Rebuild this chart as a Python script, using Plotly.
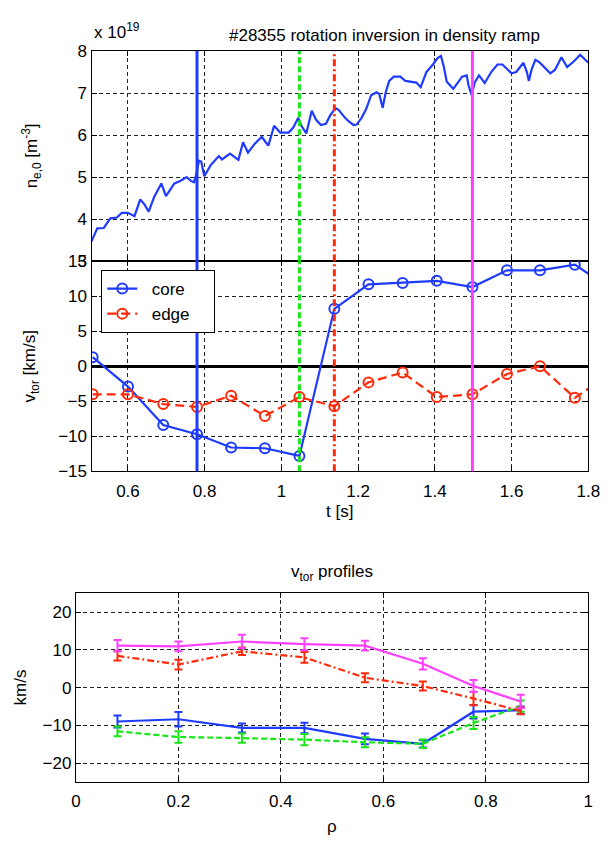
import plotly.graph_objects as go

# Central electron density during the ramp, in units of 1e19 m^-3
t_ne = [0.505, 0.520, 0.537, 0.554, 0.571, 0.584, 0.600, 0.617, 0.632, 0.643,
        0.654, 0.668, 0.687, 0.699, 0.721, 0.736, 0.753, 0.764, 0.772, 0.778,
        0.785, 0.791, 0.799, 0.816, 0.837, 0.845, 0.866, 0.888, 0.900, 0.913,
        0.930, 0.949, 0.959, 0.966, 0.981, 0.997, 1.019, 1.031, 1.044, 1.052,
        1.065, 1.079, 1.090, 1.103, 1.116, 1.128, 1.141, 1.149, 1.166, 1.175,
        1.188, 1.196, 1.209, 1.221, 1.234, 1.248, 1.255, 1.264, 1.272, 1.281,
        1.293, 1.310, 1.323, 1.340, 1.352, 1.363, 1.378, 1.395, 1.407, 1.416,
        1.424, 1.431, 1.448, 1.460, 1.471, 1.483, 1.488, 1.496, 1.504, 1.515,
        1.530, 1.547, 1.563, 1.576, 1.586, 1.600, 1.612, 1.631, 1.640, 1.645,
        1.652, 1.662, 1.673, 1.686, 1.701, 1.713, 1.730, 1.745, 1.762, 1.779,
        1.789, 1.800]
ne0 = [3.47, 3.78, 3.79, 4.02, 4.04, 4.15, 4.15, 4.07, 4.47, 4.35,
       4.18, 4.52, 4.85, 4.55, 4.85, 4.91, 5.00, 4.91, 4.88, 5.06,
       5.39, 5.37, 5.02, 5.29, 5.50, 5.42, 5.56, 5.41, 5.83, 5.58,
       5.79, 5.96, 5.83, 5.75, 6.22, 6.06, 6.06, 6.18, 6.41, 6.22,
       6.04, 6.58, 6.37, 6.24, 6.27, 6.48, 6.64, 6.60, 6.41, 6.33,
       6.24, 6.25, 6.41, 6.62, 6.95, 7.02, 6.98, 6.65, 7.02, 7.29,
       7.39, 7.39, 7.29, 7.27, 7.25, 7.14, 7.50, 7.68, 7.83, 7.88,
       7.60, 7.27, 7.10, 7.25, 7.39, 7.42, 7.18, 6.95, 7.25, 7.42,
       7.24, 7.50, 7.68, 7.68, 7.60, 7.47, 7.50, 7.72, 7.50, 7.29,
       7.55, 7.79, 7.73, 7.60, 7.47, 7.55, 7.85, 7.62, 7.75, 7.91,
       7.83, 7.72]

# Toroidal rotation (km/s) at the core and at the edge
t_rot = [0.508, 0.600, 0.692, 0.780, 0.869, 0.957, 1.047, 1.138,
         1.227, 1.316, 1.405, 1.498, 1.588, 1.674, 1.765, 1.855]
v_core = [1.3, -2.9, -8.4, -9.7, -11.6, -11.7, -12.8, 8.2,
          11.7, 11.9, 12.2, 11.3, 13.7, 13.7, 14.5, 11.2]
v_edge = [-4.0, -4.0, -5.4, -5.8, -4.2, -7.1, -4.4, -5.7,
          -2.3, -0.9, -4.4, -4.0, -1.1, 0.0, -4.5, -1.2]

# Times at which radial profiles are shown
profile_times = [0.780, 1.047, 1.138, 1.498]
profile_colors = ["#1f3bff", "#19e619", "#ff2a0a", "#ff40ff"]
profile_dash = ["solid", "6px,3px", "7px,3px,2px,3px", "solid"]

# Radial profiles of v_tor (km/s) with uncertainties
rho = [0.081, 0.200, 0.324, 0.446, 0.564, 0.677, 0.776, 0.868]
v_prof = [
    [-9.0, -8.4, -10.7, -10.7, -13.6, -14.9, -6.4, -6.0],
    [-11.6, -13.1, -13.4, -13.8, -14.5, -14.9, -9.4, -4.9],
    [8.4, 6.1, 9.6, 8.0, 2.6, 0.4, -2.9, -6.2],
    [11.1, 10.9, 12.2, 11.5, 11.1, 6.3, 0.4, -3.7],
]
v_prof_err = [
    [1.6, 1.9, 1.2, 1.4, 1.4, 1.0, 1.8, 1.0],
    [1.3, 1.5, 1.2, 1.5, 1.3, 1.1, 1.6, 1.5],
    [1.2, 1.3, 1.0, 1.4, 1.2, 1.2, 1.8, 0.9],
    [1.5, 1.3, 1.8, 1.6, 1.3, 1.5, 1.6, 1.8],
]

t_ticks = [0.6, 0.8, 1.0, 1.2, 1.4, 1.6, 1.8]
t_ticklabels = ["0.6", "0.8", "1", "1.2", "1.4", "1.6", "1.8"]
ne_ticks = [3, 4, 5, 6, 7, 8]
v_ticks = [-15, -10, -5, 0, 5, 10, 15]
rho_ticks = [0, 0.2, 0.4, 0.6, 0.8, 1.0]
rho_ticklabels = ["0", "0.2", "0.4", "0.6", "0.8", "1"]
vp_ticks = [-20, -10, 0, 10, 20]

FONT = "Liberation Sans, Arial, sans-serif"
W, H = 610, 843
BLUE = "#1f3bff"
RED = "#ff2a0a"
NB = "\u00a0"


def px(x):
    return x / W


def py(y):
    return 1 - y / H


fig = go.Figure()

fig.add_trace(go.Scatter(x=t_ne, y=ne0, mode="lines", xaxis="x", yaxis="y",
                         line=dict(color=BLUE, width=2.2), showlegend=False))

fig.add_trace(go.Scatter(x=t_rot, y=v_core, mode="lines+markers",
                         name=NB * 2 + "core" + NB * 4,
                         xaxis="x2", yaxis="y2",
                         line=dict(color=BLUE, width=2.2),
                         marker=dict(symbol="circle-open", size=10,
                                     line=dict(color=BLUE, width=2))))
fig.add_trace(go.Scatter(x=t_rot, y=v_edge, mode="lines+markers",
                         name=NB * 2 + "edge" + NB * 4,
                         xaxis="x2", yaxis="y2",
                         line=dict(color=RED, width=2.2, dash="9px,5px"),
                         marker=dict(symbol="circle-open", size=10,
                                     line=dict(color=RED, width=2))))

for vals, errs, col, dsh in zip(v_prof, v_prof_err, profile_colors, profile_dash):
    fig.add_trace(go.Scatter(x=rho, y=vals, mode="lines", xaxis="x3", yaxis="y3",
                             line=dict(color=col, width=2.2, dash=dsh),
                             error_y=dict(type="data", array=errs, visible=True,
                                          color=col, thickness=2, width=4),
                             showlegend=False))

# Markers for the profile times across both time-trace panels
shapes = []
for t, col, dsh in zip(profile_times, profile_colors, profile_dash):
    for xr, yr in (("x", "y domain"), ("x2", "y2 domain")):
        shapes.append(dict(type="line", xref=xr, yref=yr, x0=t, x1=t, y0=0, y1=1,
                           layer="above", line=dict(color=col, width=3, dash=dsh)))

axis_common = dict(
    showline=True, linecolor="black", linewidth=1.3, mirror="ticks",
    ticks="inside", ticklen=5, tickcolor="black", tickwidth=1,
    showgrid=True, gridcolor="#222222", gridwidth=1, griddash="4px,3px",
    zeroline=False, tickfont=dict(family=FONT, size=17, color="black"),
)

x_dom = [px(89), px(600)]
fig.update_layout(
    width=W, height=H, margin=dict(l=0, r=0, t=0, b=0),
    paper_bgcolor="white", plot_bgcolor="white",
    font=dict(family=FONT, size=17, color="black"),
    shapes=shapes,
    xaxis=dict(axis_common, domain=x_dom, range=[0.505, 1.8], tickvals=t_ticks,
               showticklabels=False, anchor="y"),
    yaxis=dict(axis_common, domain=[py(258), py(43)], range=[3, 8],
               tickvals=ne_ticks, anchor="x"),
    xaxis2=dict(axis_common, domain=x_dom, range=[0.505, 1.8], tickvals=t_ticks,
                ticktext=t_ticklabels, anchor="y2", ticklabelstandoff=4),
    yaxis2=dict(axis_common, domain=[py(473), py(258)], range=[-15, 15],
                tickvals=v_ticks, anchor="x2", zeroline=True,
                zerolinecolor="black", zerolinewidth=3),
    xaxis3=dict(axis_common, domain=[px(73), px(600)], range=[0, 1],
                tickvals=rho_ticks, ticktext=rho_ticklabels, anchor="y3",
                ticklabelstandoff=4),
    yaxis3=dict(axis_common, domain=[py(790.7), py(597.7)], range=[-25, 25],
                tickvals=vp_ticks, anchor="x3"),
    legend=dict(x=px(99), y=py(267), xanchor="left", yanchor="top",
                bgcolor="white", bordercolor="black", borderwidth=1,
                font=dict(family=FONT, size=17, color="black"),
                tracegroupgap=0, itemwidth=30),
)

ann = [
    dict(text="#28355 rotation inversion in density ramp", x=px(390), y=py(27)),
    dict(text="x 10<sup>19</sup>", x=px(90), y=py(22), xanchor="left"),
    dict(text="n<sub>e,0</sub> [m<sup>-3</sup>]", x=px(27), y=py(150.5), textangle=-90),
    dict(text="v<sub>tor</sub> [km/s]", x=px(27), y=py(365.5), textangle=-90),
    dict(text="t [s]", x=px(344.5), y=py(514)),
    dict(text="v<sub>tor</sub> profiles", x=px(336.5), y=py(577)),
    dict(text="km/s", x=px(15.5), y=py(694), textangle=-90),
    dict(text="ρ", x=px(336.5), y=py(836)),
]
for a in ann:
    base = dict(xref="paper", yref="paper", showarrow=False, xanchor="center",
                yanchor="middle", font=dict(family=FONT, size=17, color="black"))
    base.update(a)
    fig.add_annotation(**base)

fig.write_html("out.html")
